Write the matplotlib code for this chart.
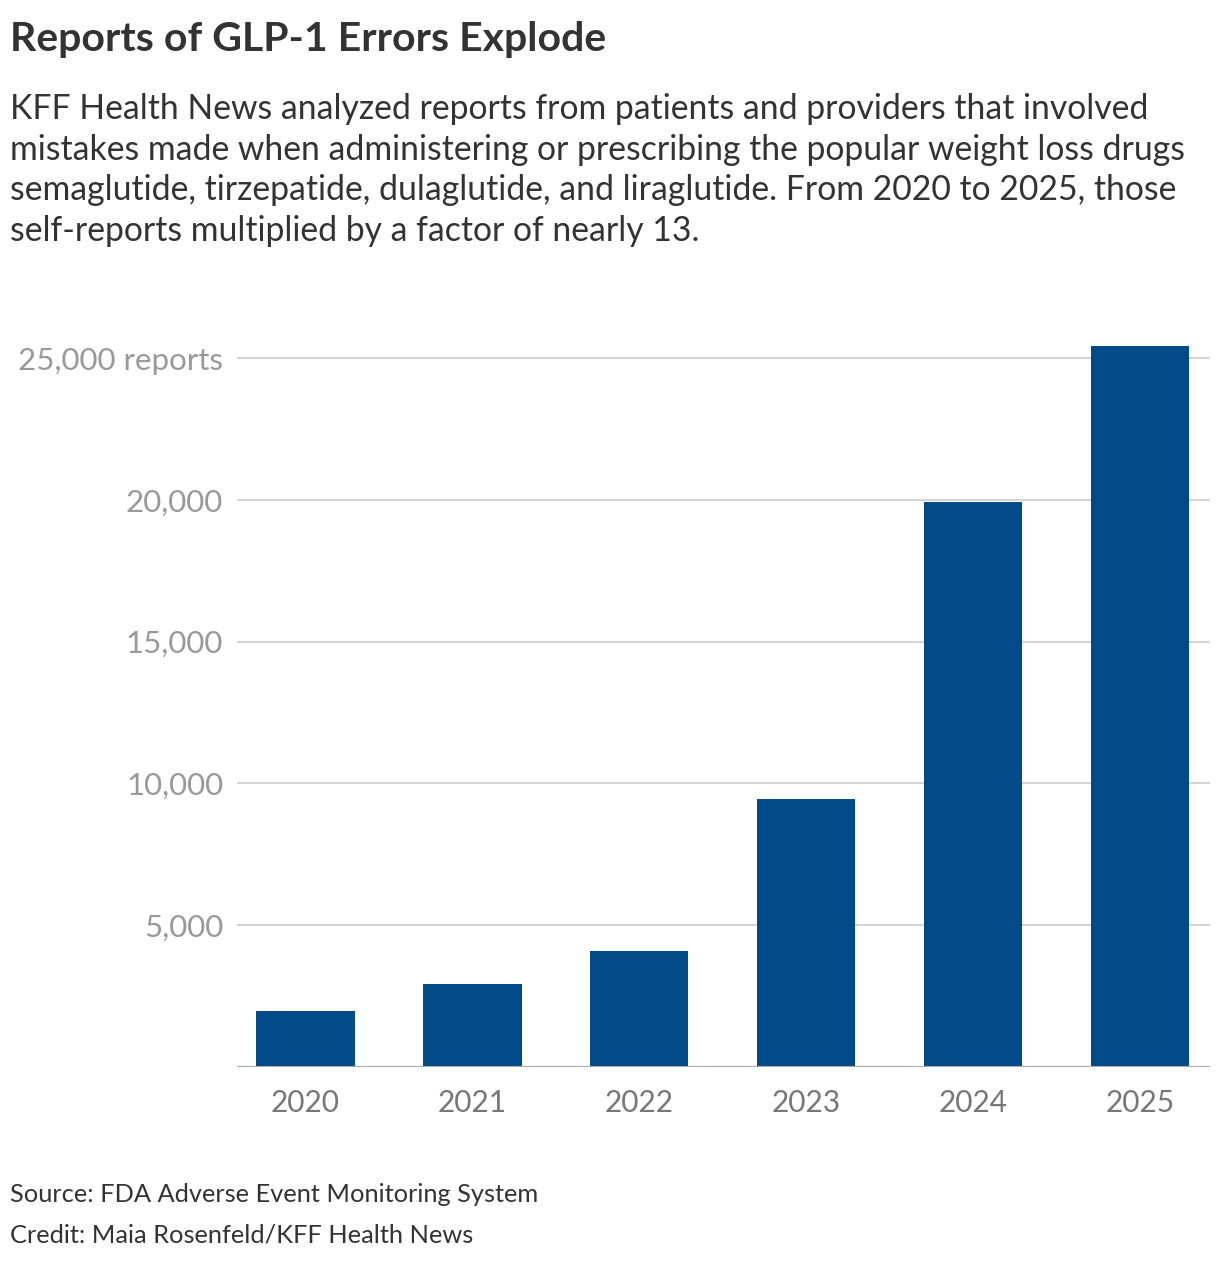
import matplotlib
matplotlib.use("Agg")
import matplotlib.pyplot as plt

years = ["2020", "2021", "2022", "2023", "2024", "2025"]
reports = [1980, 2930, 4090, 9450, 19920, 25420]
yticks = [5000, 10000, 15000, 20000, 25000]
ytick_labels = ["5,000", "10,000", "15,000", "20,000", "25,000 reports"]

plt.rcParams['font.family'] = ['Lato', 'DejaVu Sans']
W, H = 1220, 1262
fig = plt.figure(figsize=(W/100, H/100), dpi=100)
ax = fig.add_axes([237/W, (H-1067)/H, (1210-237)/W, (1067-344)/H])
ax.bar(range(len(years)), reports, width=0.59, color="#004b87", zorder=3)
ax.set_xlim(-0.41, 5.42)
ax.set_ylim(0, 25500)
ax.set_yticks(yticks)
ax.set_yticklabels(ytick_labels)
for y in yticks:
    ax.axhline(y, color="#cccccc", lw=1.2, zorder=1)
ax.axhline(0, color="#aaaaaa", lw=1.5, zorder=4)
ax.set_xticks(range(len(years)))
ax.set_xticklabels(years)
for s in ax.spines.values():
    s.set_visible(False)
ax.tick_params(axis='y', length=0, labelsize=22.5, colors="#999999", pad=10)
ax.tick_params(axis='x', length=0, labelsize=21.5, colors="#777777", pad=16)

fig.text(10/W, 1-40/H, "Reports of GLP-1 Errors Explode", fontsize=29.5, fontweight='bold', color="#333333", va='center')
sub = ("KFF Health News analyzed reports from patients and providers that involved\n"
       "mistakes made when administering or prescribing the popular weight loss drugs\n"
       "semaglutide, tirzepatide, dulaglutide, and liraglutide. From 2020 to 2025, those\n"
       "self-reports multiplied by a factor of nearly 13.")
fig.text(10/W, 1-93/H, sub, fontsize=24.3, color="#333333", va='top', linespacing=1.33)
fig.text(10/W, 1-1195/H, "Source: FDA Adverse Event Monitoring System", fontsize=18.3, color="#333333", va='center')
fig.text(10/W, 1-1235/H, "Credit: Maia Rosenfeld/KFF Health News", fontsize=18.3, color="#333333", va='center')
fig.savefig("out.png", dpi=100)
